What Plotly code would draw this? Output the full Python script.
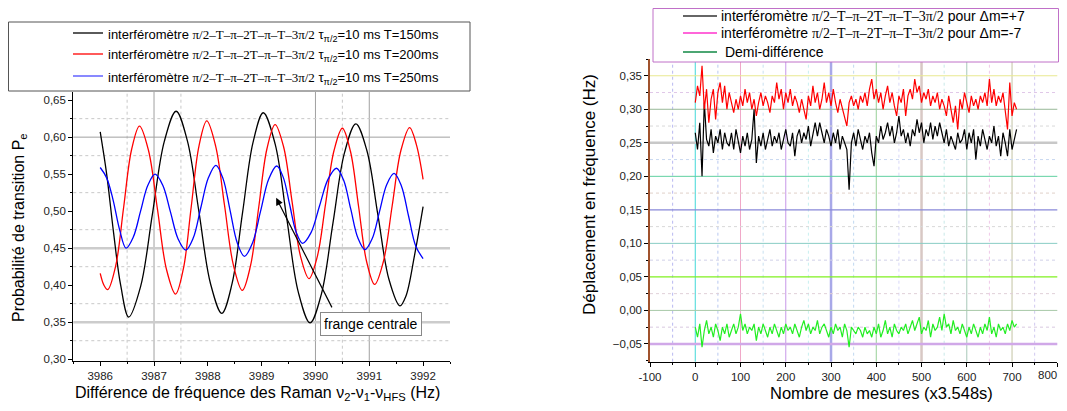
import plotly.graph_objects as go

# ---------------- Left chart data ----------------
t150_x = [3986.0, 3986.12, 3986.25, 3986.38, 3986.53, 3986.75, 3986.97, 3987.19, 3987.41, 3987.62, 3987.835,
          3988.05, 3988.26, 3988.45, 3988.645, 3988.84, 3989.03, 3989.25, 3989.465, 3989.68, 3989.90, 3990.11,
          3990.325, 3990.54, 3990.75, 3990.955, 3991.16, 3991.365, 3991.57, 3991.68, 3991.84, 3992.0]
t150_y = [0.607, 0.55, 0.47, 0.40, 0.357, 0.398, 0.496, 0.594, 0.635, 0.595, 0.499,
          0.402, 0.362, 0.402, 0.498, 0.593, 0.633, 0.591, 0.491, 0.391, 0.349, 0.388,
          0.484, 0.579, 0.618, 0.582, 0.495, 0.408, 0.372, 0.385, 0.44, 0.506]

t200_x = [3986.0, 3986.07, 3986.14, 3986.2875, 3986.435, 3986.5825, 3986.73, 3986.8975, 3987.065, 3987.2325,
          3987.40, 3987.545, 3987.69, 3987.835, 3987.98, 3988.145, 3988.31, 3988.475, 3988.64, 3988.7925,
          3988.945, 3989.0975, 3989.25, 3989.4075, 3989.565, 3989.7225, 3989.88, 3990.035, 3990.19, 3990.345,
          3990.50, 3990.65, 3990.80, 3990.95, 3991.10, 3991.2625, 3991.425, 3991.5875, 3991.75, 3991.875, 3992.0]
t200_y = [0.416, 0.400, 0.394, 0.426, 0.505, 0.583, 0.615, 0.582, 0.502, 0.421,
          0.388, 0.422, 0.505, 0.588, 0.622, 0.588, 0.508, 0.427, 0.393, 0.426,
          0.505, 0.584, 0.617, 0.587, 0.513, 0.439, 0.409, 0.439, 0.511, 0.582,
          0.612, 0.581, 0.507, 0.432, 0.401, 0.432, 0.507, 0.582, 0.613, 0.59, 0.543]

t250_x = [3986.0, 3986.12, 3986.24, 3986.36, 3986.48, 3986.615, 3986.75, 3986.885, 3987.02, 3987.1625,
          3987.305, 3987.4475, 3987.59, 3987.73, 3987.87, 3988.01, 3988.15, 3988.2825, 3988.415, 3988.5475,
          3988.68, 3988.83, 3988.98, 3989.13, 3989.28, 3989.40, 3989.52, 3989.64, 3989.76, 3989.9175,
          3990.075, 3990.2325, 3990.39, 3990.5225, 3990.655, 3990.7875, 3990.92, 3991.055, 3991.19, 3991.325,
          3991.46, 3991.595, 3991.73, 3991.865, 3992.0]
t250_y = [0.559, 0.545, 0.515, 0.475, 0.450, 0.465, 0.500, 0.535, 0.550, 0.535,
          0.499, 0.4625, 0.4475, 0.464, 0.505, 0.545, 0.562, 0.544, 0.5005, 0.457,
          0.439, 0.457, 0.500, 0.543, 0.561, 0.546, 0.509, 0.472, 0.4565, 0.471,
          0.507, 0.543, 0.558, 0.542, 0.503, 0.464, 0.448, 0.463, 0.4995, 0.536,
          0.551, 0.5345, 0.4935, 0.4525, 0.436]

SEQ = "<span style=\"font-family:'Liberation Serif', serif\">π/2–T–π–2T–π–T–3π/2</span>"
left_names = [
    "interféromètre " + SEQ + " τ<sub>π/2</sub>=10 ms T=150ms",
    "interféromètre " + SEQ + " τ<sub>π/2</sub>=10 ms T=200ms",
    "interféromètre " + SEQ + " τ<sub>π/2</sub>=10 ms T=250ms",
]
left_colors = ["#000000", "#ff0000", "#0000ff"]
left_legend_colors = ["#000000", "#ff0000", "#4a4aff"]
left_xticks = [3986, 3987, 3988, 3989, 3990, 3991, 3992]
left_yticks = [0.30, 0.35, 0.40, 0.45, 0.50, 0.55, 0.60, 0.65]

step = 5
plus7 = [0.265, 0.24, 0.28, 0.20, 0.31, 0.255, 0.245, 0.27, 0.235, 0.26,
         0.25, 0.27, 0.24, 0.265, 0.25, 0.245, 0.265, 0.24, 0.27, 0.25,
         0.235, 0.26, 0.245, 0.265, 0.24, 0.255, 0.30, 0.22, 0.26, 0.245,
         0.265, 0.24, 0.255, 0.27, 0.245, 0.26, 0.25, 0.265, 0.24, 0.255,
         0.27, 0.25, 0.245, 0.265, 0.23, 0.26, 0.27, 0.25, 0.265, 0.255,
         0.275, 0.245, 0.265, 0.28, 0.26, 0.28, 0.265, 0.25, 0.27, 0.26,
         0.245, 0.265, 0.25, 0.27, 0.24, 0.26, 0.25, 0.24, 0.18, 0.25,
         0.265, 0.245, 0.27, 0.255, 0.24, 0.26, 0.25, 0.265, 0.235, 0.215,
         0.26, 0.25, 0.275, 0.255, 0.265, 0.28, 0.26, 0.275, 0.25, 0.265,
         0.29, 0.26, 0.27, 0.25, 0.265, 0.245, 0.27, 0.26, 0.285, 0.265,
         0.28, 0.25, 0.27, 0.26, 0.28, 0.255, 0.275, 0.26, 0.28, 0.265,
         0.25, 0.27, 0.245, 0.26, 0.25, 0.24, 0.265, 0.25, 0.255, 0.27,
         0.24, 0.265, 0.25, 0.27, 0.225, 0.26, 0.245, 0.27, 0.255, 0.24,
         0.26, 0.25, 0.275, 0.245, 0.26, 0.23, 0.265, 0.25, 0.23, 0.27,
         0.24, 0.255, 0.27]
minus7 = [0.31, 0.335, 0.32, 0.365, 0.30, 0.33, 0.28, 0.315, 0.33, 0.285,
          0.325, 0.34, 0.31, 0.335, 0.30, 0.325, 0.31, 0.295, 0.315, 0.30,
          0.32, 0.305, 0.33, 0.31, 0.325, 0.30, 0.315, 0.29, 0.31, 0.325,
          0.305, 0.32, 0.31, 0.295, 0.32, 0.31, 0.34, 0.315, 0.33, 0.30,
          0.325, 0.31, 0.33, 0.305, 0.32, 0.31, 0.295, 0.315, 0.30, 0.285,
          0.32, 0.305, 0.335, 0.31, 0.325, 0.30, 0.315, 0.34, 0.31, 0.325,
          0.305, 0.33, 0.31, 0.295, 0.315, 0.30, 0.29, 0.275, 0.31, 0.32,
          0.305, 0.315, 0.30, 0.32, 0.31, 0.325, 0.305, 0.33, 0.345, 0.315,
          0.33, 0.31, 0.325, 0.30, 0.32, 0.335, 0.31, 0.325, 0.305, 0.29,
          0.32, 0.31, 0.33, 0.29, 0.32, 0.33, 0.315, 0.345, 0.325, 0.335,
          0.31, 0.325, 0.315, 0.33, 0.305, 0.32, 0.31, 0.325, 0.30, 0.315,
          0.305, 0.29, 0.32, 0.30, 0.28, 0.305, 0.27, 0.315, 0.30, 0.325,
          0.31, 0.295, 0.32, 0.305, 0.315, 0.30, 0.32, 0.31, 0.325, 0.305,
          0.345, 0.31, 0.33, 0.305, 0.32, 0.31, 0.325, 0.30, 0.27, 0.34,
          0.29, 0.31, 0.30]
half_diff = [-0.025, -0.04, -0.02, -0.055, -0.03, -0.015, -0.035, -0.025, -0.04, -0.02,
             -0.03, -0.045, -0.025, -0.035, -0.02, -0.04, -0.03, -0.02, -0.035, -0.025,
             -0.005, -0.03, -0.02, -0.035, -0.025, -0.03, -0.02, -0.045, -0.025, -0.035,
             -0.02, -0.03, -0.04, -0.025, -0.035, -0.02, -0.03, -0.04, -0.025, -0.035,
             -0.02, -0.03, -0.025, -0.035, -0.02, -0.03, -0.04, -0.025, -0.015, -0.03,
             -0.02, -0.035, -0.025, -0.03, -0.015, -0.035, -0.025, -0.02, -0.03, -0.04,
             -0.025, -0.035, -0.02, -0.03, -0.025, -0.04, -0.02, -0.03, -0.055, -0.025,
             -0.03, -0.035, -0.025, -0.03, -0.04, -0.025, -0.035, -0.03, -0.04, -0.025,
             -0.035, -0.02, -0.04, -0.03, -0.015, -0.035, -0.025, -0.04, -0.02, -0.03,
             -0.035, -0.025, -0.03, -0.02, -0.035, -0.025, -0.015, -0.03, -0.02, -0.01,
             -0.035, -0.025, -0.03, -0.015, -0.04, -0.02, -0.03, -0.025, -0.01, -0.03,
             -0.005, -0.025, -0.02, -0.035, -0.015, -0.03, -0.025, -0.035, -0.02, -0.03,
             -0.04, -0.025, -0.035, -0.02, -0.03, -0.04, -0.025, -0.035, -0.02, -0.03,
             -0.01, -0.035, -0.025, -0.04, -0.02, -0.03, -0.025, -0.035, -0.02, -0.03,
             -0.015, -0.025, -0.02]
right_names = [
    "interféromètre " + SEQ + " pour Δm=+7",
    "interféromètre " + SEQ + " pour Δm=-7",
    " Demi-différence",
]
right_line_colors = ["#000000", "#ff0000", "#22ee22"]
right_legend_colors = ["#333333", "#ff33cc", "#118844"]
right_xticks = [-100, 0, 100, 200, 300, 400, 500, 600, 700, 800]
right_xtick_labels = ["-100", "0", "100", "200", "300", "400", "500", "600", "700", "800"]
right_yticks = [-0.05, 0.00, 0.05, 0.10, 0.15, 0.20, 0.25, 0.30, 0.35]

# The page keeps the browser's 8px body margin, so the figure is 16px smaller than the window.
PAGE_W, PAGE_H, BODY_M = 1067, 411, 8
W, H = PAGE_W - 2 * BODY_M, PAGE_H - 2 * BODY_M
FONT = "Liberation Sans, Arial, sans-serif"


def px_x(p):
    return (p - BODY_M) / W


def px_y(p):
    return 1 - (p - BODY_M) / H


fig = go.Figure()

for i, (xs, ys) in enumerate([(t150_x, t150_y), (t200_x, t200_y), (t250_x, t250_y)]):
    fig.add_trace(go.Scatter(x=xs, y=ys, mode="lines", line=dict(color=left_colors[i], width=1.3, shape="spline"),
                             name=left_names[i], xaxis="x", yaxis="y", showlegend=False))

mx = list(range(0, step * len(plus7), step))
for i, ys in enumerate([plus7, minus7, half_diff]):
    fig.add_trace(go.Scatter(x=mx[:len(ys)], y=ys, mode="lines", line=dict(color=right_line_colors[i], width=1.2),
                             name=right_names[i], showlegend=False, xaxis="x2", yaxis="y2"))

shapes = []
for v, dash, col, w in [(3987, "solid", "#a0a0a0", 1), (3990, "solid", "#a0a0a0", 1), (3991, "solid", "#a0a0a0", 1),
                        (3986.5, "dot", "#c8c8c8", 1), (3987.5, "dot", "#c8c8c8", 1), (3990.5, "dot", "#c8c8c8", 1)]:
    shapes.append(dict(type="line", xref="x", yref="y domain", x0=v, x1=v, y0=0, y1=1, layer="below",
                       line=dict(color=col, width=w, dash=dash)))
for v, dash, col, w in [(0.60, "solid", "#a0a0a0", 1), (0.45, "solid", "#cccccc", 2.5), (0.35, "solid", "#cccccc", 2.5),
                        (0.625, "dot", "#c8c8c8", 1), (0.575, "dot", "#c8c8c8", 1), (0.525, "dot", "#c8c8c8", 1),
                        (0.475, "dot", "#c8c8c8", 1), (0.425, "dot", "#c8c8c8", 1), (0.375, "dot", "#c8c8c8", 1),
                        (0.325, "dot", "#c8c8c8", 1)]:
    shapes.append(dict(type="line", xref="x domain", yref="y", x0=0, x1=1, y0=v, y1=v, layer="below",
                       line=dict(color=col, width=w, dash=dash)))

vcols = {0: "#40d8d8", 100: "#f0a8c8", 200: "#c898e8", 300: "#a8a8e8", 400: "#98d098",
         500: "#d8c8c4", 600: "#a8c8b8", 700: "#c4c4a4"}
vwid = {300: 2.5, 500: 2.5}
for v, c in vcols.items():
    shapes.append(dict(type="line", xref="x2", yref="y2 domain", x0=v, x1=v, y0=0, y1=1, layer="below",
                       line=dict(color=c, width=vwid.get(v, 1))))
for v, c in [(-50, "#b8b8f0"), (50, "#b8c8f0"), (150, "#c8e0f0"), (250, "#c8f0f0"), (350, "#c0d8f0"),
             (450, "#d8d8f8"), (550, "#c8e8e8"), (650, "#f0c8e8"), (750, "#d0c8f0")]:
    shapes.append(dict(type="line", xref="x2", yref="y2 domain", x0=v, x1=v, y0=0, y1=1, layer="below",
                       line=dict(color=c, width=1, dash="dot")))
hcols = {0.35: ("#e8e890", 1), 0.30: ("#98b898", 1), 0.25: ("#c8c8c8", 2.5), 0.20: ("#60d0a0", 1),
         0.15: ("#8888d8", 1.3), 0.10: ("#88ccc4", 1), 0.05: ("#80f020", 1.3), 0.00: ("#a8c8a8", 1),
         -0.05: ("#d0a8e8", 2.5)}
for v, (c, w) in hcols.items():
    shapes.append(dict(type="line", xref="x2 domain", yref="y2", x0=0, x1=1, y0=v, y1=v, layer="below",
                       line=dict(color=c, width=w)))
for v, c in [(0.325, "#e0c8e8"), (0.275, "#d8d8d8"), (0.225, "#c8d8f0"), (0.175, "#e0d0c8"), (0.125, "#d8d8d8"),
             (0.075, "#d0d0e8"), (0.025, "#e0d0d8"), (-0.025, "#d8c8e0")]:
    shapes.append(dict(type="line", xref="x2 domain", yref="y2", x0=0, x1=1, y0=v, y1=v, layer="below",
                       line=dict(color=c, width=1, dash="dot")))

# legend frames
shapes.append(dict(type="rect", xref="paper", yref="paper", x0=px_x(8.5), x1=px_x(470), y0=px_y(91), y1=px_y(22),
                   line=dict(color="#555555", width=1), layer="below"))
shapes.append(dict(type="rect", xref="paper", yref="paper", x0=px_x(653), x1=px_x(1058.5), y0=px_y(62),
                   y1=px_y(8.5), line=dict(color="#c070c8", width=1), fillcolor="white", layer="above"))

tickfont = dict(size=11.5, color="#222222", family=FONT)

annotations = [
    dict(x=3989.27, y=0.518, xref="x", yref="y", ax=3990.32, ay=0.368, axref="x", ayref="y", text="",
         showarrow=True, arrowhead=2, arrowsize=1.2, arrowwidth=1.2, arrowcolor="#000000"),
    dict(x=3991.03, y=0.348, xref="x", yref="y", text="frange centrale", showarrow=False,
         xanchor="center", yanchor="middle",
         font=dict(size=14, color="#000000", family=FONT), bordercolor="#888888", borderwidth=1, borderpad=3,
         bgcolor="white"),
    dict(x=px_x(257), y=px_y(393), xref="paper", yref="paper", showarrow=False, xanchor="center", yanchor="middle",
         text="Différence de fréquence des Raman ν<sub>2</sub>-ν<sub>1</sub>-ν<sub>HFS</sub> (Hz)",
         font=dict(size=16, color="#000000", family=FONT)),
    dict(x=px_x(19), y=px_y(228), xref="paper", yref="paper", showarrow=False, textangle=-90,
         xanchor="center", yanchor="middle",
         text="Probabilité de transition P<sub>e</sub>", font=dict(size=16, color="#000000", family=FONT)),
    dict(x=px_x(881), y=px_y(393), xref="paper", yref="paper", showarrow=False, xanchor="center", yanchor="middle",
         text="Nombre de mesures (x3.548s)", font=dict(size=16.5, color="#000000", family=FONT)),
    dict(x=px_x(589), y=px_y(195), xref="paper", yref="paper", showarrow=False, textangle=-90,
         xanchor="center", yanchor="middle",
         text="Déplacement en fréquence (Hz)", font=dict(size=17, color="#000000", family=FONT)),
    # last x tick label of the right chart, kept inside the page's right edge
    dict(x=1.0, y=px_y(375), xref="paper", yref="paper", showarrow=False, xanchor="right", yanchor="middle",
         text=right_xtick_labels[-1], font=tickfont),
]

# hand-placed legends (line sample + text)
for i, yy in enumerate([33, 54, 76]):
    shapes.append(dict(type="line", xref="paper", yref="paper", x0=px_x(73), x1=px_x(103), y0=px_y(yy),
                       y1=px_y(yy), line=dict(color=left_legend_colors[i], width=1.3)))
    annotations.append(dict(x=px_x(106), y=px_y(yy), xref="paper", yref="paper", showarrow=False,
                            xanchor="left", yanchor="middle", yshift=-2, text=left_names[i],
                            font=dict(size=13, color="#000000", family=FONT)))
for i, yy in enumerate([16, 33, 52]):
    shapes.append(dict(type="line", xref="paper", yref="paper", x0=px_x(683), x1=px_x(717), y0=px_y(yy),
                       y1=px_y(yy), line=dict(color=right_legend_colors[i], width=1.3)))
    annotations.append(dict(x=px_x(719), y=px_y(yy), xref="paper", yref="paper", showarrow=False,
                            xanchor="left", yanchor="middle", text=right_names[i],
                            font=dict(size=14, color="#000000", family=FONT)))

fig.update_layout(
    width=W, height=H, autosize=False,
    margin=dict(l=0, r=0, t=0, b=0),
    paper_bgcolor="white", plot_bgcolor="white",
    separators=", ",
    font=dict(family=FONT),
    showlegend=False,
    xaxis=dict(domain=[px_x(73.3), px_x(450)], range=[3985.5, 3992.5], anchor="y", automargin=False,
               tickvals=left_xticks, ticks="outside", ticklen=4, tickcolor="#000", showgrid=False, zeroline=False,
               showline=True, linecolor="#000", linewidth=1.2, tickfont=tickfont,
               minor=dict(ticks="outside", ticklen=2, dtick=0.5, tick0=3985.5, tickcolor="#000", showgrid=False)),
    yaxis=dict(domain=[px_y(360.7), px_y(92)], range=[0.298, 0.661], anchor="x", automargin=False,
               tickvals=left_yticks, tickformat=".2f", ticks="outside", ticklen=4, tickcolor="#000",
               showgrid=False, zeroline=False, showline=True, linecolor="#000", linewidth=1.2, tickfont=tickfont,
               minor=dict(ticks="outside", ticklen=2, dtick=0.025, tick0=0.3, tickcolor="#000", showgrid=False)),
    xaxis2=dict(domain=[px_x(650), px_x(1057.3)], range=[-100, 800], anchor="y2", automargin=False,
                tickvals=right_xticks, ticktext=right_xtick_labels[:-1] + [""],
                ticks="outside", ticklen=4, tickcolor="#000", showgrid=False, zeroline=False,
                showline=True, linecolor="#000", linewidth=1.2, tickfont=tickfont,
                minor=dict(ticks="outside", ticklen=2, dtick=50, tick0=-100, tickcolor="#000", showgrid=False)),
    yaxis2=dict(domain=[px_y(361.7), px_y(59)], range=[-0.0765, 0.375], anchor="x2", automargin=False,
                tickvals=right_yticks, tickformat=".2f", ticks="outside", ticklen=4, tickcolor="#000",
                showgrid=False, zeroline=False, showline=True, linecolor="#a0522d", linewidth=1.5,
                tickfont=tickfont,
                minor=dict(ticks="outside", ticklen=2, dtick=0.025, tick0=0, tickcolor="#000", showgrid=False)),
    shapes=shapes,
    annotations=annotations,
)

fig.write_html("out.html", config={"displayModeBar": False, "responsive": False})
